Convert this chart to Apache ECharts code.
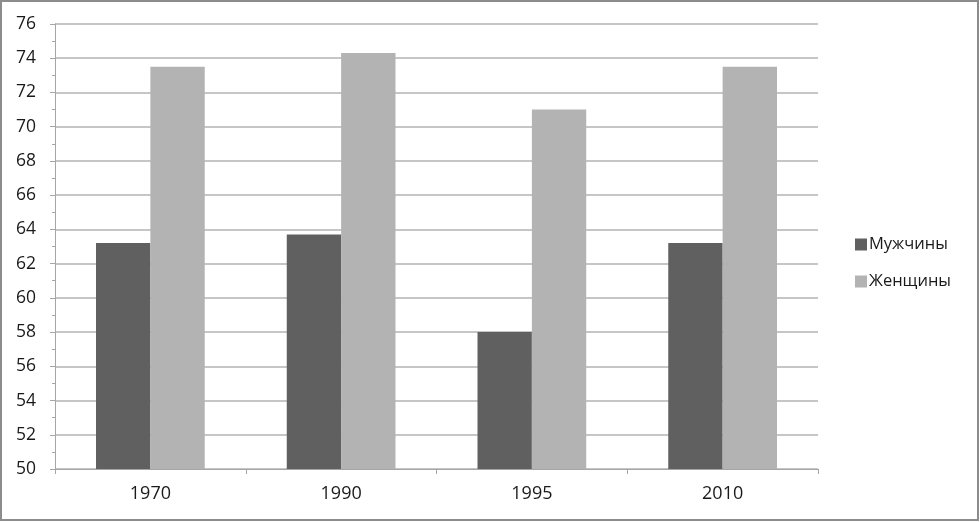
<!DOCTYPE html>
<html>
<head>
<meta charset="utf-8">
<script src="https://cdn.jsdelivr.net/npm/echarts@6/dist/echarts.min.js"></script>
<style>
  html, body { margin: 0; padding: 0; background: #fff; }
  #chart { width: 980px; height: 522px; }
</style>
</head>
<body>
<div id="chart"></div>
<script>
'use strict';
// года и продолжительность жизни
const years = ['1970', '1990', '1995', '2010'];
const men = [63.2, 63.7, 58.0, 63.2];
const women = [73.5, 74.3, 71.0, 73.5];
const seriesNames = ['Мужчины', 'Женщины'];

const font = '"Open Sans", "DejaVu Sans", sans-serif';
let instance = echarts.init(document.getElementById('chart'));
instance.setOption({
  animation: false,
  color: ['#606060', '#b3b3b3'],
  textStyle: { fontFamily: font },
  graphic: [{
    type: 'rect',
    shape: { x: 1, y: 1, width: 977, height: 519 },
    style: { fill: 'none', stroke: '#8c8c8c', lineWidth: 2 },
    silent: true
  }],
  grid: { left: 55, right: 162, top: 24, bottom: 53 },
  legend: {
    orient: 'vertical',
    left: 850,
    top: 231,
    itemWidth: 12,
    itemHeight: 12,
    itemGap: 20,
    icon: 'rect',
    textStyle: { fontSize: 16.5, color: '#1a1a1a', fontFamily: font, padding: [0, 0, 0, -3] },
    data: seriesNames
  },
  xAxis: {
    type: 'category',
    data: years,
    axisLine: { lineStyle: { color: '#a6a6a6', width: 1 } },
    axisTick: { show: true, length: 5, lineStyle: { color: '#a6a6a6' } },
    axisLabel: { fontSize: 18, color: '#1a1a1a', margin: 16 }
  },
  yAxis: {
    type: 'value',
    min: 50,
    max: 76,
    interval: 2,
    axisLine: { show: true, lineStyle: { color: '#a6a6a6' } },
    axisTick: { show: true, length: 5, lineStyle: { color: '#a6a6a6' } },
    minorTick: { show: true, splitNumber: 2, length: 3, lineStyle: { color: '#a6a6a6' } },
    splitLine: { lineStyle: { color: '#b3b3b3', width: 1.5 } },
    axisLabel: { fontSize: 17.5, color: '#1a1a1a', margin: 19 }
  },
  series: [
    { name: seriesNames[0], type: 'bar', data: men, barGap: '0%', barCategoryGap: '43%' },
    { name: seriesNames[1], type: 'bar', data: women, barGap: '0%', barCategoryGap: '43%' }
  ]
});
window.onresize = () => {
  instance.resize();
};
</script>
</body>
</html>
